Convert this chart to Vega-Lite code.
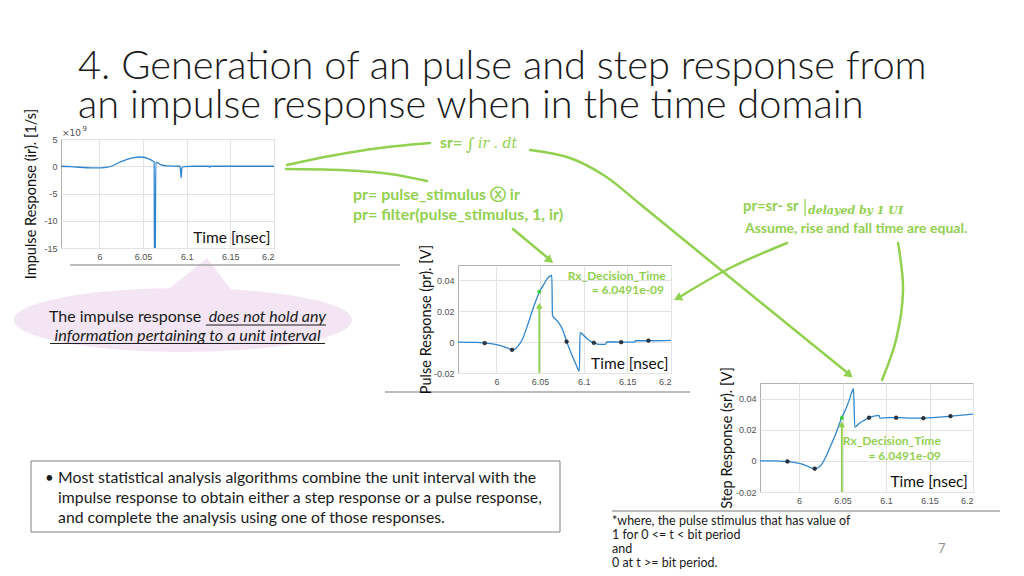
{
"$schema":"https://vega.github.io/schema/vega-lite/v6.json",
"background":"white",
"padding":0,
"bounds":"flush",
"align":"none",
"spacing":0,
"columns":4,
"datasets":{
"impulse":[{"t":5.956,"v":0},{"t":5.9667,"v":-0.06},{"t":5.978,"v":-0.18},{"t":5.9897,"v":-0.3},{"t":6.001,"v":-0.3},{"t":6.0096,"v":-0.18},{"t":6.0164,"v":0.18},{"t":6.024,"v":0.8},{"t":6.0317,"v":1.28},{"t":6.0394,"v":1.59},{"t":6.0451,"v":1.7},{"t":6.0509,"v":1.65},{"t":6.0566,"v":1.34},{"t":6.0616,"v":0.91},{"t":6.0627,"v":0.8},{"t":6.0631,"v":-20},{"t":6.0639,"v":-20},{"t":6.0646,"v":0.73},{"t":6.07,"v":0.3},{"t":6.0776,"v":0.06},{"t":6.0922,"v":0},{"t":6.093,"v":-0.9},{"t":6.0937,"v":-2.1},{"t":6.0945,"v":-0.3},{"t":6.0968,"v":-0.06},{"t":6.1082,"v":0},{"t":6.1254,"v":0},{"t":6.1262,"v":-0.18},{"t":6.127,"v":0},{"t":6.2,"v":0}],
"pulse":[{"t":5.956,"v":0},{"t":5.978,"v":-0.0002},{"t":5.9866,"v":-0.0006},{"t":5.997,"v":-0.0013},{"t":6.0065,"v":-0.0026},{"t":6.0162,"v":-0.0045},{"t":6.02,"v":-0.0048},{"t":6.0238,"v":-0.0032},{"t":6.0296,"v":0.0017},{"t":6.0354,"v":0.0104},{"t":6.0412,"v":0.0205},{"t":6.0462,"v":0.0283},{"t":6.05,"v":0.0333},{"t":6.0546,"v":0.0378},{"t":6.0585,"v":0.0413},{"t":6.0615,"v":0.0428},{"t":6.0635,"v":0.0432},{"t":6.0642,"v":0.0175},{"t":6.07,"v":0.0136},{"t":6.0758,"v":0.0082},{"t":6.0804,"v":0.0006},{"t":6.0854,"v":-0.0069},{"t":6.0912,"v":-0.0145},{"t":6.095,"v":-0.0188},{"t":6.0958,"v":0.0061},{"t":6.1008,"v":0.0039},{"t":6.1065,"v":0.0011},{"t":6.1123,"v":-0.0006},{"t":6.1181,"v":-0.0015},{"t":6.125,"v":-0.0015},{"t":6.1262,"v":0.0002},{"t":6.1431,"v":0},{"t":6.1585,"v":0},{"t":6.1592,"v":0.0009},{"t":6.1746,"v":0.0009},{"t":6.2,"v":0.0011}],
"pulseSamples":[{"t":5.9866,"v":-0.0006},{"t":6.0179,"v":-0.005},{"t":6.0804,"v":0.0004},{"t":6.1116,"v":-0.0004},{"t":6.1429,"v":0},{"t":6.1741,"v":0.001}],
"step":[{"t":5.955,"v":0},{"t":5.972,"v":0},{"t":5.9846,"v":-0.0004},{"t":5.9992,"v":-0.0015},{"t":6.0089,"v":-0.0032},{"t":6.0166,"v":-0.0049},{"t":6.0205,"v":-0.0047},{"t":6.0255,"v":-0.0026},{"t":6.0309,"v":0.0028},{"t":6.0359,"v":0.0092},{"t":6.0417,"v":0.0167},{"t":6.0483,"v":0.0268},{"t":6.0533,"v":0.0328},{"t":6.0571,"v":0.0382},{"t":6.0618,"v":0.0457},{"t":6.0625,"v":0.0463},{"t":6.0641,"v":0.0217},{"t":6.0687,"v":0.0238},{"t":6.0745,"v":0.0259},{"t":6.0803,"v":0.0277},{"t":6.0861,"v":0.0287},{"t":6.0919,"v":0.0292},{"t":6.093,"v":0.0274},{"t":6.1035,"v":0.0277},{"t":6.1131,"v":0.0277},{"t":6.1305,"v":0.0274},{"t":6.144,"v":0.0274},{"t":6.1575,"v":0.0279},{"t":6.1749,"v":0.0287},{"t":6.2,"v":0.03}],
"stepSamples":[{"t":5.9866,"v":-0.0004},{"t":6.0179,"v":-0.005},{"t":6.0804,"v":0.0277},{"t":6.1116,"v":0.0277},{"t":6.1429,"v":0.0274},{"t":6.1741,"v":0.0287}],
"arrows":[
{"a":"A","i":0,"sx":269.1,"sy":154.7},{"a":"A","i":1,"sx":309.4,"sy":146.25},{"a":"A","i":2,"sx":356.25,"sy":138.75},{"a":"A","i":3,"sx":403.1,"sy":134.1},
{"a":"B","i":0,"sx":268.1,"sy":158.4},{"a":"B","i":1,"sx":318.75,"sy":159.4},{"a":"B","i":2,"sx":365.6,"sy":163.1},{"a":"B","i":3,"sx":400.3,"sy":169.7},
{"a":"C","i":0,"sx":496.9,"sy":140.6},{"a":"C","i":1,"sx":534.4,"sy":148.1},{"a":"C","i":2,"sx":567.2,"sy":165},{"a":"C","i":3,"sx":600,"sy":191.25},{"a":"C","i":4,"sx":656.25,"sy":237.2},{"a":"C","i":5,"sx":795.9,"sy":350.6},
{"a":"D","i":0,"sx":480.9,"sy":214.7},{"a":"D","i":1,"sx":514.7,"sy":242.8},
{"a":"E","i":0,"sx":737.8,"sy":227.8},{"a":"E","i":1,"sx":684.4,"sy":251.25},{"a":"E","i":2,"sx":635.6,"sy":279.4},
{"a":"F","i":0,"sx":841.9,"sy":227.8},{"a":"F","i":1,"sx":846.6,"sy":271.9},{"a":"F","i":2,"sx":840,"sy":318.75},{"a":"F","i":3,"sx":826.9,"sy":356.25}
]
},
"concat":[
{
"width":61,"height":139,
"data":{"values":[{}]},
"layer":[
{"mark":{"type":"point","shape":"M-1,0A1,0.189,0,1,1,1,0A1,0.189,0,1,1,-1,0ZM-0.1,-0.17L0.142,-0.367L0.3,-0.16Z","filled":true,"fill":"#f3e5f3","opacity":1,"size":114244,"strokeWidth":0},
 "encoding":{"x":{"datum":171.6,"type":"quantitative","scale":{"domain":[0,57.1875],"nice":false,"zero":false},"axis":null},"y":{"datum":300,"type":"quantitative","scale":{"domain":[0,130.3125],"nice":false,"zero":false,"reverse":true},"axis":null}}},
{"mark":{"type":"rule","stroke":"#a6a6a6","strokeWidth":1.5},"encoding":{"x":{"datum":65.6,"type":"quantitative","scale":{"domain":[0,57.1875],"nice":false,"zero":false},"axis":null},"x2":{"datum":375},"y":{"datum":248.4,"type":"quantitative","scale":{"domain":[0,130.3125],"nice":false,"zero":false,"reverse":true},"axis":null}}},
{"mark":{"type":"rule","stroke":"#a6a6a6","strokeWidth":1.5},"encoding":{"x":{"datum":360.9,"type":"quantitative","scale":{"domain":[0,57.1875],"nice":false,"zero":false},"axis":null},"x2":{"datum":646.9},"y":{"datum":367.5,"type":"quantitative","scale":{"domain":[0,130.3125],"nice":false,"zero":false,"reverse":true},"axis":null}}},
{"mark":{"type":"rule","stroke":"#a6a6a6","strokeWidth":1.5},"encoding":{"x":{"datum":573.75,"type":"quantitative","scale":{"domain":[0,57.1875],"nice":false,"zero":false},"axis":null},"x2":{"datum":937.5},"y":{"datum":479.1,"type":"quantitative","scale":{"domain":[0,130.3125],"nice":false,"zero":false,"reverse":true},"axis":null}}},
{"mark":{"type":"rect","fill":"transparent","stroke":"#808080","strokeWidth":1},"encoding":{"x":{"datum":29.06,"type":"quantitative","scale":{"domain":[0,57.1875],"nice":false,"zero":false},"axis":null},"x2":{"datum":525},"y":{"datum":432.2,"type":"quantitative","scale":{"domain":[0,130.3125],"nice":false,"zero":false,"reverse":true},"axis":null},"y2":{"datum":498.75}}},
{"mark":{"type":"text","text":"4. Generation of an pulse and step response from","font":"Lato","fontWeight":300,"fontSize":39.8,"fill":"#1a1a1a","align":"left","baseline":"alphabetic"},"encoding":{"x":{"datum":73.1,"type":"quantitative","scale":{"domain":[0,57.1875],"nice":false,"zero":false},"axis":null},"y":{"datum":74.5,"type":"quantitative","scale":{"domain":[0,130.3125],"nice":false,"zero":false,"reverse":true},"axis":null}}},
{"mark":{"type":"text","text":"an impulse response when in the time domain","font":"Lato","fontWeight":300,"fontSize":39.8,"fill":"#1a1a1a","align":"left","baseline":"alphabetic"},"encoding":{"x":{"datum":73.1,"type":"quantitative","scale":{"domain":[0,57.1875],"nice":false,"zero":false},"axis":null},"y":{"datum":110.6,"type":"quantitative","scale":{"domain":[0,130.3125],"nice":false,"zero":false,"reverse":true},"axis":null}}},
{"mark":{"type":"text","text":"×10","font":"DejaVu Sans","fontSize":9,"fill":"#505050","align":"left","baseline":"alphabetic"},"encoding":{"x":{"datum":58.1,"type":"quantitative","scale":{"domain":[0,57.1875],"nice":false,"zero":false},"axis":null},"y":{"datum":127.5,"type":"quantitative","scale":{"domain":[0,130.3125],"nice":false,"zero":false,"reverse":true},"axis":null}}},
{"mark":{"type":"text","text":"9","font":"DejaVu Sans","fontSize":7,"fill":"#505050","align":"left","baseline":"alphabetic"},"encoding":{"x":{"datum":77.3,"type":"quantitative","scale":{"domain":[0,57.1875],"nice":false,"zero":false},"axis":null},"y":{"datum":123.2,"type":"quantitative","scale":{"domain":[0,130.3125],"nice":false,"zero":false,"reverse":true},"axis":null}}},
{"mark":{"type":"text","text":"sr=","font":"Lato","fontWeight":"bold","fontSize":16,"fill":"#92D050","align":"left","baseline":"alphabetic"},"encoding":{"x":{"datum":412.5,"type":"quantitative","scale":{"domain":[0,57.1875],"nice":false,"zero":false},"axis":null},"y":{"datum":138.75,"type":"quantitative","scale":{"domain":[0,130.3125],"nice":false,"zero":false,"reverse":true},"axis":null}}},
{"mark":{"type":"text","text":"∫","font":"DejaVu Serif","fontSize":17,"fill":"#92D050","align":"left","baseline":"alphabetic"},"encoding":{"x":{"datum":436.9,"type":"quantitative","scale":{"domain":[0,57.1875],"nice":false,"zero":false},"axis":null},"y":{"datum":140.6,"type":"quantitative","scale":{"domain":[0,130.3125],"nice":false,"zero":false,"reverse":true},"axis":null}}},
{"mark":{"type":"text","text":"ir . dt","font":"DejaVu Serif","fontStyle":"italic","fontSize":14,"fill":"#92D050","align":"left","baseline":"alphabetic"},"encoding":{"x":{"datum":448.1,"type":"quantitative","scale":{"domain":[0,57.1875],"nice":false,"zero":false},"axis":null},"y":{"datum":138.75,"type":"quantitative","scale":{"domain":[0,130.3125],"nice":false,"zero":false,"reverse":true},"axis":null}}},
{"mark":{"type":"text","text":"pr= pulse_stimulus ⓧ ir","font":"Lato","fontWeight":"bold","fontSize":16,"fill":"#92D050","align":"left","baseline":"alphabetic"},"encoding":{"x":{"datum":330.9,"type":"quantitative","scale":{"domain":[0,57.1875],"nice":false,"zero":false},"axis":null},"y":{"datum":187.5,"type":"quantitative","scale":{"domain":[0,130.3125],"nice":false,"zero":false,"reverse":true},"axis":null}}},
{"mark":{"type":"text","text":"pr= filter(pulse_stimulus, 1, ir)","font":"Lato","fontWeight":"bold","fontSize":16,"fill":"#92D050","align":"left","baseline":"alphabetic"},"encoding":{"x":{"datum":330.9,"type":"quantitative","scale":{"domain":[0,57.1875],"nice":false,"zero":false},"axis":null},"y":{"datum":206.25,"type":"quantitative","scale":{"domain":[0,130.3125],"nice":false,"zero":false,"reverse":true},"axis":null}}},
{"mark":{"type":"text","text":"pr=sr- sr","font":"Lato","fontWeight":"bold","fontSize":14.8,"fill":"#92D050","align":"left","baseline":"alphabetic"},"encoding":{"x":{"datum":696.6,"type":"quantitative","scale":{"domain":[0,57.1875],"nice":false,"zero":false},"axis":null},"y":{"datum":197.8,"type":"quantitative","scale":{"domain":[0,130.3125],"nice":false,"zero":false,"reverse":true},"axis":null}}},
{"mark":{"type":"rule","stroke":"#92D050","strokeWidth":1.2},"encoding":{"x":{"datum":754.7,"type":"quantitative","scale":{"domain":[0,57.1875],"nice":false,"zero":false},"axis":null},"y":{"datum":186.6,"type":"quantitative","scale":{"domain":[0,130.3125],"nice":false,"zero":false,"reverse":true},"axis":null},"y2":{"datum":202.5}}},
{"mark":{"type":"text","text":"delayed by 1 UI","font":"DejaVu Serif","fontStyle":"italic","fontWeight":"bold","fontSize":11,"fill":"#92D050","align":"left","baseline":"alphabetic"},"encoding":{"x":{"datum":757.5,"type":"quantitative","scale":{"domain":[0,57.1875],"nice":false,"zero":false},"axis":null},"y":{"datum":200.6,"type":"quantitative","scale":{"domain":[0,130.3125],"nice":false,"zero":false,"reverse":true},"axis":null}}},
{"mark":{"type":"text","text":"Assume, rise and fall time are equal.","font":"Lato","fontWeight":"bold","fontSize":14,"fill":"#92D050","align":"left","baseline":"alphabetic"},"encoding":{"x":{"datum":698.4,"type":"quantitative","scale":{"domain":[0,57.1875],"nice":false,"zero":false},"axis":null},"y":{"datum":218.4,"type":"quantitative","scale":{"domain":[0,130.3125],"nice":false,"zero":false,"reverse":true},"axis":null}}},
{"mark":{"type":"text","text":"The impulse response","font":"Lato","fontSize":16,"fill":"#1a1a1a","align":"left","baseline":"alphabetic"},"encoding":{"x":{"datum":45.9,"type":"quantitative","scale":{"domain":[0,57.1875],"nice":false,"zero":false},"axis":null},"y":{"datum":301.9,"type":"quantitative","scale":{"domain":[0,130.3125],"nice":false,"zero":false,"reverse":true},"axis":null}}},
{"mark":{"type":"text","text":"does not hold any","font":"Lato","fontStyle":"italic","fontSize":16,"fill":"#1a1a1a","align":"right","baseline":"alphabetic"},"encoding":{"x":{"datum":305.6,"type":"quantitative","scale":{"domain":[0,57.1875],"nice":false,"zero":false},"axis":null},"y":{"datum":301.9,"type":"quantitative","scale":{"domain":[0,130.3125],"nice":false,"zero":false,"reverse":true},"axis":null}}},
{"mark":{"type":"text","text":"information pertaining to a unit interval","font":"Lato","fontStyle":"italic","fontSize":16.3,"fill":"#1a1a1a","align":"center","baseline":"alphabetic"},"encoding":{"x":{"datum":175.8,"type":"quantitative","scale":{"domain":[0,57.1875],"nice":false,"zero":false},"axis":null},"y":{"datum":319.7,"type":"quantitative","scale":{"domain":[0,130.3125],"nice":false,"zero":false,"reverse":true},"axis":null}}},
{"mark":{"type":"rule","stroke":"#1a1a1a","strokeWidth":1},"encoding":{"x":{"datum":193,"type":"quantitative","scale":{"domain":[0,57.1875],"nice":false,"zero":false},"axis":null},"x2":{"datum":305.6},"y":{"datum":304.7,"type":"quantitative","scale":{"domain":[0,130.3125],"nice":false,"zero":false,"reverse":true},"axis":null}}},
{"mark":{"type":"rule","stroke":"#1a1a1a","strokeWidth":1},"encoding":{"x":{"datum":46.9,"type":"quantitative","scale":{"domain":[0,57.1875],"nice":false,"zero":false},"axis":null},"x2":{"datum":304.7},"y":{"datum":322,"type":"quantitative","scale":{"domain":[0,130.3125],"nice":false,"zero":false,"reverse":true},"axis":null}}},
{"mark":{"type":"text","text":"•","font":"Lato","fontSize":15,"fill":"#1a1a1a","align":"left","baseline":"alphabetic"},"encoding":{"x":{"datum":42.2,"type":"quantitative","scale":{"domain":[0,57.1875],"nice":false,"zero":false},"axis":null},"y":{"datum":452.8,"type":"quantitative","scale":{"domain":[0,130.3125],"nice":false,"zero":false,"reverse":true},"axis":null}}},
{"mark":{"type":"text","text":"Most statistical analysis algorithms combine the unit interval with the","font":"Lato","fontSize":15.8,"fill":"#1a1a1a","align":"left","baseline":"alphabetic"},"encoding":{"x":{"datum":54.4,"type":"quantitative","scale":{"domain":[0,57.1875],"nice":false,"zero":false},"axis":null},"y":{"datum":452.8,"type":"quantitative","scale":{"domain":[0,130.3125],"nice":false,"zero":false,"reverse":true},"axis":null}}},
{"mark":{"type":"text","text":"impulse response to obtain either a step response or a pulse response,","font":"Lato","fontSize":15.8,"fill":"#1a1a1a","align":"left","baseline":"alphabetic"},"encoding":{"x":{"datum":54.4,"type":"quantitative","scale":{"domain":[0,57.1875],"nice":false,"zero":false},"axis":null},"y":{"datum":471.6,"type":"quantitative","scale":{"domain":[0,130.3125],"nice":false,"zero":false,"reverse":true},"axis":null}}},
{"mark":{"type":"text","text":"and complete the analysis using one of those responses.","font":"Lato","fontSize":15.8,"fill":"#1a1a1a","align":"left","baseline":"alphabetic"},"encoding":{"x":{"datum":54.4,"type":"quantitative","scale":{"domain":[0,57.1875],"nice":false,"zero":false},"axis":null},"y":{"datum":490.3,"type":"quantitative","scale":{"domain":[0,130.3125],"nice":false,"zero":false,"reverse":true},"axis":null}}},
{"mark":{"type":"text","text":"*where, the pulse stimulus that has value of","font":"Lato","fontSize":12.5,"fill":"#1a1a1a","align":"left","baseline":"alphabetic"},"encoding":{"x":{"datum":573.75,"type":"quantitative","scale":{"domain":[0,57.1875],"nice":false,"zero":false},"axis":null},"y":{"datum":492.2,"type":"quantitative","scale":{"domain":[0,130.3125],"nice":false,"zero":false,"reverse":true},"axis":null}}},
{"mark":{"type":"text","text":"1 for 0 <= t < bit period","font":"Lato","fontSize":12.5,"fill":"#1a1a1a","align":"left","baseline":"alphabetic"},"encoding":{"x":{"datum":573.75,"type":"quantitative","scale":{"domain":[0,57.1875],"nice":false,"zero":false},"axis":null},"y":{"datum":505.3,"type":"quantitative","scale":{"domain":[0,130.3125],"nice":false,"zero":false,"reverse":true},"axis":null}}},
{"mark":{"type":"text","text":"and","font":"Lato","fontSize":12.5,"fill":"#1a1a1a","align":"left","baseline":"alphabetic"},"encoding":{"x":{"datum":573.75,"type":"quantitative","scale":{"domain":[0,57.1875],"nice":false,"zero":false},"axis":null},"y":{"datum":518.4,"type":"quantitative","scale":{"domain":[0,130.3125],"nice":false,"zero":false,"reverse":true},"axis":null}}},
{"mark":{"type":"text","text":"0 at t >= bit period.","font":"Lato","fontSize":12.5,"fill":"#1a1a1a","align":"left","baseline":"alphabetic"},"encoding":{"x":{"datum":573.75,"type":"quantitative","scale":{"domain":[0,57.1875],"nice":false,"zero":false},"axis":null},"y":{"datum":531.6,"type":"quantitative","scale":{"domain":[0,130.3125],"nice":false,"zero":false,"reverse":true},"axis":null}}},
{"mark":{"type":"text","text":"7","font":"Lato","fontSize":12.5,"fill":"#8c8c8c","align":"center","baseline":"alphabetic"},"encoding":{"x":{"datum":883.1,"type":"quantitative","scale":{"domain":[0,57.1875],"nice":false,"zero":false},"axis":null},"y":{"datum":518.4,"type":"quantitative","scale":{"domain":[0,130.3125],"nice":false,"zero":false,"reverse":true},"axis":null}}},
{"data":{"name":"arrows"},"mark":{"type":"line","stroke":"#92D050","strokeWidth":2.5,"interpolate":"catmull-rom","strokeCap":"round"},"encoding":{"x":{"field":"sx","type":"quantitative","scale":{"domain":[0,57.1875],"nice":false,"zero":false},"axis":null},"y":{"field":"sy","type":"quantitative","scale":{"domain":[0,130.3125],"nice":false,"zero":false,"reverse":true},"axis":null},"detail":{"field":"a"},"order":{"field":"i"}}},
{"mark":{"type":"point","shape":"triangle-up","filled":true,"fill":"#92D050","opacity":1,"size":90,"strokeWidth":0,"angle":129},"encoding":{"x":{"datum":796.4,"type":"quantitative","scale":{"domain":[0,57.1875],"nice":false,"zero":false},"axis":null},"y":{"datum":351.5,"type":"quantitative","scale":{"domain":[0,130.3125],"nice":false,"zero":false,"reverse":true},"axis":null}}},
{"mark":{"type":"point","shape":"triangle-up","filled":true,"fill":"#92D050","opacity":1,"size":90,"strokeWidth":0,"angle":129},"encoding":{"x":{"datum":515.6,"type":"quantitative","scale":{"domain":[0,57.1875],"nice":false,"zero":false},"axis":null},"y":{"datum":244.2,"type":"quantitative","scale":{"domain":[0,130.3125],"nice":false,"zero":false,"reverse":true},"axis":null}}},
{"mark":{"type":"point","shape":"triangle-up","filled":true,"fill":"#92D050","opacity":1,"size":90,"strokeWidth":0,"angle":243},"encoding":{"x":{"datum":635.25,"type":"quantitative","scale":{"domain":[0,57.1875],"nice":false,"zero":false},"axis":null},"y":{"datum":279.6,"type":"quantitative","scale":{"domain":[0,130.3125],"nice":false,"zero":false,"reverse":true},"axis":null}}}
]
},
{"width":397,"height":1,"data":{"values":[]},"mark":"point"},
{"width":302,"height":1,"data":{"values":[]},"mark":"point"},
{"width":1,"height":1,"data":{"values":[]},"mark":"point"},
{"width":61,"height":126,"data":{"values":[]},"mark":"point"},
{
"width":213,"height":109,"view":{"stroke":"#b0b0b0"},
"layer":[
{"data":{"name":"impulse"},"mark":{"type":"line","stroke":"#2e86d1","strokeWidth":1.3,"clip":true,"interpolate":"monotone"},
 "encoding":{"x":{"field":"t","type":"quantitative","scale":{"domain":[5.956,6.2],"nice":false,"zero":false},"axis":{"values":[6,6.05,6.1,6.15,6.2],"tickCount":20,"title":null,"format":"~g"}},
 "y":{"field":"v","type":"quantitative","scale":{"domain":[-15,5],"nice":false,"zero":false},"axis":{"values":[-15,-10,-5,0,5],"tickCount":20,"title":"Impulse Response (ir). [1/s]","format":"~g","labelExpr":"replace(datum.label,'−','-')","titlePadding":5}}}},
{"data":{"values":[{}]},"mark":{"type":"text","text":"Time [nsec]","font":"Lato","fontSize":15.5,"fill":"#111111","align":"right","baseline":"alphabetic"},"encoding":{"x":{"datum":6.196,"type":"quantitative"},"y":{"datum":-14.1,"type":"quantitative"}}}
]
},
{"width":1,"height":1,"data":{"values":[]},"mark":"point"},
{"width":1,"height":1,"data":{"values":[]},"mark":"point"},
{"width":1,"height":1,"data":{"values":[]},"mark":"point"},
{"width":1,"height":1,"data":{"values":[]},"mark":"point"},
{
"width":213,"height":108,"view":{"stroke":"#b0b0b0"},
"layer":[
{"data":{"name":"pulse"},"mark":{"type":"line","stroke":"#2e86d1","strokeWidth":1.3,"clip":true,"interpolate":"monotone"},
 "encoding":{"x":{"field":"t","type":"quantitative","scale":{"domain":[5.956,6.2],"nice":false,"zero":false},"axis":{"values":[6,6.05,6.1,6.15,6.2],"tickCount":20,"title":null,"format":"~g"}},
 "y":{"field":"v","type":"quantitative","scale":{"domain":[-0.02,0.05],"nice":false,"zero":false},"axis":{"values":[-0.02,0,0.02,0.04],"tickCount":20,"title":"Pulse  Response (pr). [V]","format":"~g","labelExpr":"replace(datum.label,'−','-')","titlePadding":0}}}},
{"data":{"name":"pulseSamples"},"mark":{"type":"point","filled":true,"fill":"#2b3645","stroke":"#111111","strokeWidth":0.5,"size":14,"opacity":1},"encoding":{"x":{"field":"t","type":"quantitative"},"y":{"field":"v","type":"quantitative"}}},
{"data":{"values":[{}]},"mark":{"type":"rule","stroke":"#92D050","strokeWidth":1.8},"encoding":{"x":{"datum":6.0491,"type":"quantitative"},"y":{"datum":-0.02,"type":"quantitative"},"y2":{"datum":0.022}}},
{"data":{"values":[{}]},"mark":{"type":"point","shape":"triangle-up","filled":true,"fill":"#92D050","opacity":1,"size":45,"strokeWidth":0},"encoding":{"x":{"datum":6.0491,"type":"quantitative"},"y":{"datum":0.0235,"type":"quantitative"}}},
{"data":{"values":[{}]},"mark":{"type":"point","filled":true,"fill":"#3ccf3c","opacity":1,"size":16,"strokeWidth":0},"encoding":{"x":{"datum":6.0491,"type":"quantitative"},"y":{"datum":0.0326,"type":"quantitative"}}},
{"data":{"values":[{}]},"mark":{"type":"text","text":"Rx_Decision_Time","font":"Lato","fontWeight":"bold","fontSize":12,"fill":"#92D050","align":"right","baseline":"alphabetic"},"encoding":{"x":{"datum":6.194,"type":"quantitative"},"y":{"datum":0.0403,"type":"quantitative"}}},
{"data":{"values":[{}]},"mark":{"type":"text","text":"= 6.0491e-09","font":"Lato","fontWeight":"bold","fontSize":12,"fill":"#92D050","align":"right","baseline":"alphabetic"},"encoding":{"x":{"datum":6.192,"type":"quantitative"},"y":{"datum":0.0312,"type":"quantitative"}}},
{"data":{"values":[{}]},"mark":{"type":"text","text":"Time [nsec]","font":"Lato","fontSize":15.5,"fill":"#111111","align":"right","baseline":"alphabetic"},"encoding":{"x":{"datum":6.197,"type":"quantitative"},"y":{"datum":-0.0174,"type":"quantitative"}}}
]
},
{"width":1,"height":118,"data":{"values":[]},"mark":"point"},
{"width":1,"height":1,"data":{"values":[]},"mark":"point"},
{"width":1,"height":1,"data":{"values":[]},"mark":"point"},
{"width":1,"height":1,"data":{"values":[]},"mark":"point"},
{
"width":213,"height":109,"view":{"stroke":"#b0b0b0"},
"layer":[
{"data":{"name":"step"},"mark":{"type":"line","stroke":"#2e86d1","strokeWidth":1.3,"clip":true,"interpolate":"monotone"},
 "encoding":{"x":{"field":"t","type":"quantitative","scale":{"domain":[5.955,6.2],"nice":false,"zero":false},"axis":{"values":[6,6.05,6.1,6.15,6.2],"tickCount":20,"title":null,"format":"~g"}},
 "y":{"field":"v","type":"quantitative","scale":{"domain":[-0.02,0.05],"nice":false,"zero":false},"axis":{"values":[-0.02,0,0.02,0.04],"tickCount":20,"title":"Step  Response (sr). [V]","format":"~g","labelExpr":"replace(datum.label,'−','-')","titlePadding":1}}}},
{"data":{"name":"stepSamples"},"mark":{"type":"point","filled":true,"fill":"#2b3645","stroke":"#111111","strokeWidth":0.5,"size":14,"opacity":1},"encoding":{"x":{"field":"t","type":"quantitative"},"y":{"field":"v","type":"quantitative"}}},
{"data":{"values":[{}]},"mark":{"type":"rule","stroke":"#92D050","strokeWidth":1.8},"encoding":{"x":{"datum":6.0491,"type":"quantitative"},"y":{"datum":-0.02,"type":"quantitative"},"y2":{"datum":0.022}}},
{"data":{"values":[{}]},"mark":{"type":"point","shape":"triangle-up","filled":true,"fill":"#92D050","opacity":1,"size":45,"strokeWidth":0},"encoding":{"x":{"datum":6.0491,"type":"quantitative"},"y":{"datum":0.0235,"type":"quantitative"}}},
{"data":{"values":[{}]},"mark":{"type":"point","filled":true,"fill":"#3ccf3c","opacity":1,"size":16,"strokeWidth":0},"encoding":{"x":{"datum":6.0491,"type":"quantitative"},"y":{"datum":0.0276,"type":"quantitative"}}},
{"data":{"values":[{}]},"mark":{"type":"text","text":"Rx_Decision_Time","font":"Lato","fontWeight":"bold","fontSize":12,"fill":"#92D050","align":"right","baseline":"alphabetic"},"encoding":{"x":{"datum":6.163,"type":"quantitative"},"y":{"datum":0.0102,"type":"quantitative"}}},
{"data":{"values":[{}]},"mark":{"type":"text","text":"= 6.0491e-09","font":"Lato","fontWeight":"bold","fontSize":12,"fill":"#92D050","align":"right","baseline":"alphabetic"},"encoding":{"x":{"datum":6.163,"type":"quantitative"},"y":{"datum":0.0006,"type":"quantitative"}}},
{"data":{"values":[{}]},"mark":{"type":"text","text":"Time [nsec]","font":"Lato","fontSize":15.5,"fill":"#111111","align":"right","baseline":"alphabetic"},"encoding":{"x":{"datum":6.194,"type":"quantitative"},"y":{"datum":-0.0168,"type":"quantitative"}}}
]
}
],
"config":{
"view":{"stroke":null},
"axis":{"labelFont":"Liberation Sans","labelFontSize":9,"labelColor":"#505050","labelOverlap":false,"grid":true,"gridColor":"#e3e3e3","domain":false,"ticks":false,"titleFont":"Lato","titleFontSize":14.5,"titleFontWeight":"normal","titleColor":"#111111","labelPadding":4}
}
}
